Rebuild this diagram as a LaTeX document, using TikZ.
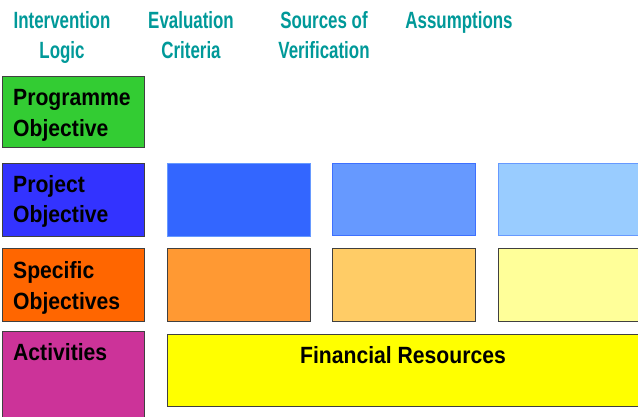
\documentclass[tikz,border=0pt]{standalone}
\usepackage{fontspec}
\newfontfamily\hdrfont{Liberation Sans}[FakeStretch=0.72]
\newfontfamily\boxfont{Liberation Sans}[FakeStretch=0.9]
\definecolor{teal1}{RGB}{0,153,153}
\definecolor{cgreen}{RGB}{51,204,51}
\definecolor{cblueA}{RGB}{51,51,255}
\definecolor{cblueB}{RGB}{51,102,255}
\definecolor{cblueC}{RGB}{102,153,255}
\definecolor{cblueD}{RGB}{153,204,255}
\definecolor{corA}{RGB}{255,102,0}
\definecolor{corB}{RGB}{255,153,51}
\definecolor{corC}{RGB}{255,204,102}
\definecolor{cyelA}{RGB}{255,255,153}
\definecolor{cmag}{RGB}{204,51,153}
\definecolor{cyel}{RGB}{255,255,0}
\definecolor{bord}{RGB}{64,64,64}
\tikzset{
  cell/.style={draw=bord, line width=1pt, anchor=north west, inner sep=0pt},
  hdr/.style={text=teal1, font=\hdrfont\bfseries\fontsize{23.5}{28}\selectfont, anchor=base, inner sep=0pt},
  lbl/.style={text=black, font=\boxfont\bfseries\fontsize{23.5}{28}\selectfont, anchor=base west, inner sep=0pt},
}
\begin{document}
\begin{tikzpicture}[x=1pt,y=-1pt]
\clip (0,0) rectangle (638,417);
\fill[white] (0,0) rectangle (638,417);
% headers
\node[hdr] (h1a) at (62,29) {Intervention};
\node[hdr] (h1b) at (62,59) {Logic};
\node[hdr] (h2a) at (191,29) {Evaluation};
\node[hdr] (h2b) at (191,59) {Criteria};
\node[hdr] (h3a) at (324,29) {Sources of};
\node[hdr] (h3b) at (324,59) {Verification};
\node[hdr] (h4a) at (459,29) {Assumptions};
% row 1
\node[cell, fill=cgreen, minimum width=142pt, minimum height=71pt] (po) at (2,76) {};
% row 2
\node[cell, fill=cblueA, minimum width=142pt, minimum height=73pt] (pj) at (2,163) {};
\node[cell, fill=cblueB, draw=cblueC, minimum width=143pt, minimum height=73pt] (pj2) at (167,163) {};
\node[cell, fill=cblueC, draw=cblueB!80!cblueC, minimum width=143pt, minimum height=72pt] (pj3) at (332,163) {};
\node[cell, fill=cblueD, draw=cblueC, minimum width=160pt, minimum height=72pt] (pj4) at (498,163) {};
% row 3
\node[cell, fill=corA, minimum width=142pt, minimum height=73pt] (so) at (2,248) {};
\node[cell, fill=corB, minimum width=143pt, minimum height=73pt] (so2) at (167,248) {};
\node[cell, fill=corC, minimum width=143pt, minimum height=73pt] (so3) at (332,248) {};
\node[cell, fill=cyelA, minimum width=160pt, minimum height=73pt] (so4) at (498,248) {};
% row 4
\node[cell, fill=cmag, minimum width=142pt, minimum height=100pt] (ac) at (2,331) {};
\node[cell, fill=cyel, minimum width=490pt, minimum height=72pt] (fr) at (167,334) {};
% labels
\node[lbl] (t1a) at (13,106) {Programme};
\node[lbl] (t1b) at (13,137) {Objective};
\node[lbl] (t2a) at (13,193) {Project};
\node[lbl] (t2b) at (13,223) {Objective};
\node[lbl] (t3a) at (13,278) {Specific};
\node[lbl] (t3b) at (13,309) {Objectives};
\node[lbl] (t4a) at (13,360) {Activities};
\node[lbl, anchor=base] (t5) at (403,363) {Financial Resources};
\end{tikzpicture}
\end{document}
